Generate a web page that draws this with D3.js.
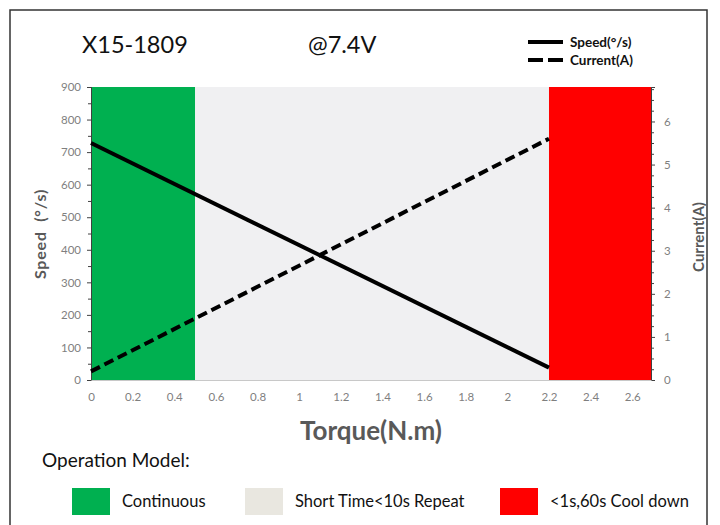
<!DOCTYPE html>
<html><head><meta charset="utf-8">
<script src="https://cdn.jsdelivr.net/npm/d3@7"></script>
<style>body{margin:0;background:#fff;} svg{display:block;} text{font-family:Lato, "Open Sans", sans-serif;}</style>
</head><body>
<svg id="c" width="720" height="525"></svg>
<script>
// data
const torque = [0, 2.2];
const speed = [728, 38];
const current = [0.2, 5.6];
const zones = [
  {label: "Continuous", from: 0, to: 0.5, color: "#00b050"},
  {label: "Short Time<10s Repeat", from: 0.5, to: 2.2, color: "#f0f0f2"},
  {label: "<1s,60s Cool down", from: 2.2, to: 2.69, color: "#ff0000"}
];
const legendSwatch = ["#00b050", "#e9e7e0", "#ff0000"];
const xTicks = [0,0.2,0.4,0.6,0.8,1,1.2,1.4,1.6,1.8,2,2.2,2.4,2.6];
const yTicks = [0,100,200,300,400,500,600,700,800,900];
const y2Ticks = [0,1,2,3,4,5,6];

const svg = d3.select("#c");
const x = d3.scaleLinear().domain([0, 2.69]).range([91, 651]);
const y = d3.scaleLinear().domain([0, 900]).range([380, 87]);
const y2 = d3.scaleLinear().domain([0, 6.8]).range([380, 87]);

// outer frame
svg.append("rect").attr("x",10).attr("y",10).attr("width",697).attr("height",530)
  .attr("fill","none").attr("stroke","#333").attr("stroke-width",1.5);

// plot background
svg.append("rect").attr("x",x(0)).attr("y",y(900)).attr("width",x(2.69)-x(0)).attr("height",y(0)-y(900)).attr("fill","#f0f0f2");
svg.selectAll("rect.zone").data(zones).join("rect").attr("class","zone")
  .attr("x", d=>x(d.from)).attr("width", d=>x(d.to)-x(d.from))
  .attr("y", y(900)).attr("height", y(0)-y(900)).attr("fill", d=>d.color);

// axes
const gray = "#595959";
svg.append("g").attr("transform",`translate(${x(0)},0)`)
  .call(d3.axisLeft(y).tickValues(yTicks).tickSize(4).tickPadding(6));
svg.append("g").attr("transform",`translate(${x(0)},0)`)
  .call(d3.axisLeft(y).tickValues(d3.range(50,900,100)).tickSize(3).tickFormat(""));
svg.append("g").attr("transform",`translate(${x(2.69)},0)`)
  .call(d3.axisRight(y2).tickValues(y2Ticks).tickSize(4).tickPadding(9).tickFormat(d3.format("d")));
svg.append("g").attr("transform",`translate(${x(2.69)},0)`)
  .call(d3.axisRight(y2).tickValues(d3.range(0.25,6.8,0.25).filter(v=>Math.abs(v-Math.round(v))>0.01)).tickSize(3).tickFormat(""));
const bax = svg.append("g").attr("transform",`translate(0,${y(0)})`)
  .call(d3.axisBottom(x).tickValues(xTicks).tickSize(0).tickPadding(13).tickFormat(d=>d3.format("~g")(d)));
svg.selectAll(".tick text").attr("fill","#7f7f7f").attr("font-size",11.5);
svg.selectAll(".domain, .tick line").attr("stroke","#404040");
bax.select(".domain").attr("stroke","#c8c8c8");

// lines
const line = (vals, sc) => d3.line().x((d,i)=>x(torque[i])).y(d=>sc(d))(vals);
svg.append("path").attr("d", line(speed, y)).attr("fill","none").attr("stroke","#000").attr("stroke-width",4);
svg.append("path").attr("d", line(current, y2)).attr("fill","none").attr("stroke","#000").attr("stroke-width",4).attr("stroke-dasharray","10,5");

// titles
svg.append("text").attr("x",82).attr("y",53).attr("font-size",23.5).attr("fill","#111").text("X15-1809");
svg.append("text").attr("x",308).attr("y",53).attr("font-size",23.5).attr("fill","#111").text("@7.4V");

// series legend
svg.append("line").attr("x1",528).attr("x2",563).attr("y1",42).attr("y2",42).attr("stroke","#000").attr("stroke-width",4);
svg.append("line").attr("x1",528).attr("x2",563).attr("y1",60).attr("y2",60).attr("stroke","#000").attr("stroke-width",4).attr("stroke-dasharray","15,5");
svg.append("text").attr("x",570).attr("y",47).attr("font-size",13.5).attr("font-weight","bold").attr("fill","#111").text("Speed(°/s)");
svg.append("text").attr("x",570).attr("y",65).attr("font-size",13.5).attr("font-weight","bold").attr("fill","#111").text("Current(A)");

// axis titles
svg.append("text").attr("transform","translate(46,234) rotate(-90)").attr("text-anchor","middle")
  .attr("font-size",16).attr("font-weight","bold").attr("fill",gray).attr("letter-spacing",0.8)
  .attr("xml:space","preserve").style("white-space","pre").text("Speed  (°/s)");
svg.append("text").attr("transform","translate(704,237) rotate(-90)").attr("text-anchor","middle")
  .attr("font-size",15).attr("font-weight","bold").attr("fill",gray).text("Current(A)");
svg.append("text").attr("x",371).attr("y",440).attr("text-anchor","middle")
  .attr("font-size",26).attr("font-weight","bold").attr("fill",gray).text("Torque(N.m)");

// operation model legend
svg.append("text").attr("x",42).attr("y",467).attr("font-size",19).attr("fill","#111").text("Operation Model:");
const lx = [72, 245, 500];
const lg = svg.selectAll("g.lg").data(zones).join("g").attr("class","lg")
  .attr("transform",(d,i)=>`translate(${lx[i]},488)`);
lg.append("rect").attr("width",38).attr("height",27).attr("fill",(d,i)=>legendSwatch[i]);
lg.append("text").attr("x",50).attr("y",19).attr("font-size",16.5).attr("fill","#111").text(d=>d.label);
</script>
</body></html>
